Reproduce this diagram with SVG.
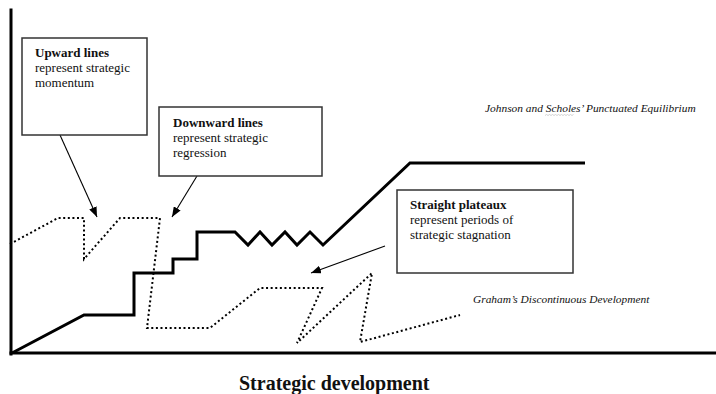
<svg xmlns="http://www.w3.org/2000/svg" width="716" height="394" viewBox="0 0 716 394">
  <style>
    .bg { fill: #ffffff; }
    .axis { fill: none; stroke: #000; stroke-width: 3; stroke-linecap: square; }
    .path-solid { fill: none; stroke: #000; stroke-width: 3; stroke-linejoin: miter; }
    .path-dotted { fill: none; stroke: #000; stroke-width: 2; stroke-dasharray: 2 2.6; }
    .box { fill: #fff; stroke: #333; stroke-width: 1.5; }
    .callout { fill: none; stroke: #000; stroke-width: 1.1; }
    .lbl { font-family: "Liberation Serif", "Times New Roman", serif; font-size: 13px; fill: #111; }
    .lbl-b { font-weight: bold; }
    .series { font-family: "Liberation Serif", "Times New Roman", serif; font-size: 11.4px; font-style: italic; fill: #111; }
    .axis-title { font-family: "Liberation Serif", "Times New Roman", serif; font-size: 20px; font-weight: bold; fill: #111; }
  </style>
  <defs>
    <marker id="tip" viewBox="0 0 10 8" refX="10" refY="4" markerWidth="10" markerHeight="8" markerUnits="userSpaceOnUse" orient="auto">
      <path d="M0,0 L10,4 L0,8 Z" fill="#000"/>
    </marker>
  </defs>

  <rect class="bg" x="0" y="0" width="716" height="394"/>

  <!-- axes -->
  <g id="axes">
    <line class="axis" x1="11" y1="10" x2="11" y2="354"/>
    <line class="axis" x1="11" y1="353" x2="716" y2="353"/>
  </g>

  <!-- punctuated equilibrium: steps, oscillation, then rise to a high plateau -->
  <polyline id="punctuated-path" class="path-solid"
    points="12,353 84,315 134,315 134,273 173,273 173,259 197,259 197,232 235,232 248,245 260,232 272,245 285,232 297,245 310,232 323,245 410,163 585,163"/>

  <!-- discontinuous development: dotted zig-zag -->
  <polyline id="discontinuous-path" class="path-dotted"
    points="10,244 58,218 84,218 84,259 120,218 160,218 147,328 210,328 260,288 322,288 297,343 372,273 360,342 460,315"/>

  <!-- series labels -->
  <g id="series-labels">
    <text class="series" x="485" y="112">Johnson and Scholes’ Punctuated Equilibrium</text>
    <path d="M545,115.5 l1.5,-1 l1.5,1 l1.5,-1 l1.5,1 l1.5,-1 l1.5,1 l1.5,-1 l1.5,1 l1.5,-1 l1.5,1 l1.5,-1 l1.5,1 l1.5,-1 l1.5,1 l1.5,-1 l1.5,1 l1.5,-1 l1.5,1 l1.5,-1" fill="none" stroke="#c8c8c8" stroke-width="0.8"/>
    <text class="series" x="473" y="303">Graham’s Discontinuous Development</text>
  </g>

  <!-- callout connectors -->
  <g id="connectors">
    <line class="callout" x1="60" y1="135" x2="97" y2="217" marker-end="url(#tip)"/>
    <line class="callout" x1="197" y1="176" x2="172" y2="217" marker-end="url(#tip)"/>
    <line class="callout" x1="385" y1="246" x2="311" y2="273" marker-end="url(#tip)"/>
  </g>

  <!-- callout boxes -->
  <g id="upward-lines">
    <rect class="box" x="22" y="38" width="125" height="97"/>
    <text class="lbl lbl-b" x="35" y="57">Upward lines</text>
    <text class="lbl" x="35" y="72">represent strategic</text>
    <text class="lbl" x="35" y="87">momentum</text>
  </g>

  <g id="downward-lines">
    <rect class="box" x="159" y="107" width="163" height="69"/>
    <text class="lbl lbl-b" x="173" y="127">Downward lines</text>
    <text class="lbl" x="173" y="142">represent strategic</text>
    <text class="lbl" x="173" y="157">regression</text>
  </g>

  <g id="straight-plateaux">
    <rect class="box" x="397" y="190" width="176" height="83"/>
    <text class="lbl lbl-b" x="410" y="209">Straight plateaux</text>
    <text class="lbl" x="410" y="224">represent periods of</text>
    <text class="lbl" x="410" y="239">strategic stagnation</text>
  </g>

  <!-- axis title -->
  <text class="axis-title" x="239" y="390">Strategic development</text>
</svg>
